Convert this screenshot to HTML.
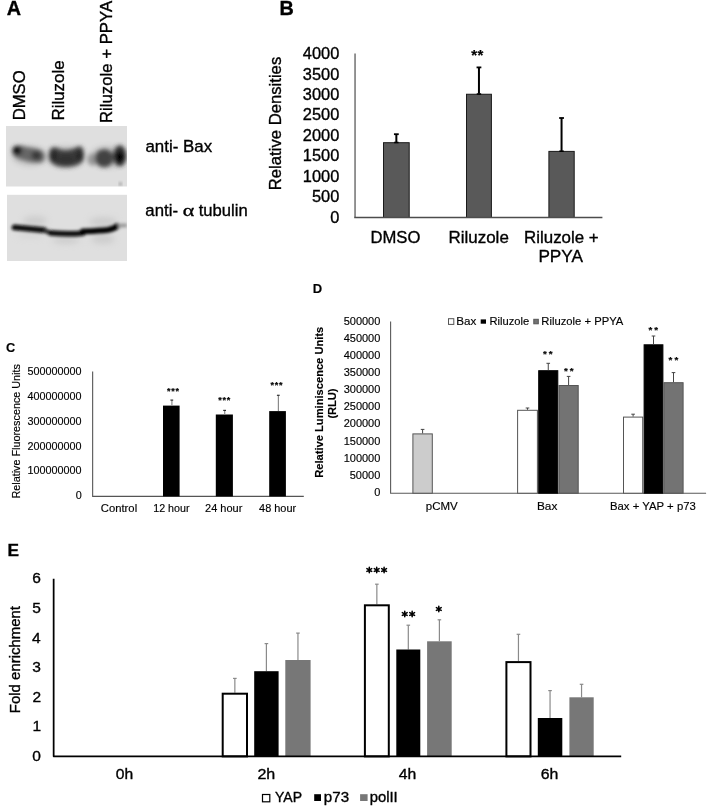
<!DOCTYPE html>
<html><head><meta charset="utf-8"><style>
html,body{margin:0;padding:0;background:#fff;}
svg{display:block;font-family:"Liberation Sans", sans-serif;filter:grayscale(1);} text{stroke:#000;}
</style></head><body>
<svg width="708" height="807" viewBox="0 0 708 807">
<text transform="translate(6.7 14.8)" font-size="19.8" fill="#000" stroke-width="0.35" font-weight="bold">A</text>
<text transform="translate(25.2 120.33) rotate(-90) scale(1.0149 1)" font-size="16.4" fill="#000" stroke-width="0.35">DMSO</text>
<text transform="translate(64 120.55) rotate(-90) scale(1.0305 1)" font-size="16.4" fill="#000" stroke-width="0.35">Riluzole</text>
<text transform="translate(112.2 123.04) rotate(-90) scale(1.0220 1)" font-size="16.4" fill="#000" stroke-width="0.35">Riluzole + PPYA</text>
<defs>
<filter id="b1" x="-30%" y="-60%" width="160%" height="220%"><feGaussianBlur stdDeviation="1.9"/></filter>
<filter id="b2" x="-20%" y="-60%" width="140%" height="220%"><feGaussianBlur stdDeviation="1.4"/></filter>
<filter id="b3" x="-50%" y="-50%" width="200%" height="200%"><feGaussianBlur stdDeviation="3"/></filter>
<clipPath id="c1"><rect x="6" y="126" width="121" height="60.5"/></clipPath>
<clipPath id="c2"><rect x="7" y="194.8" width="120" height="66.2"/></clipPath>
</defs>
<rect x="6" y="126" width="121" height="60.5" fill="#dfdfdf"/>
<g clip-path="url(#c1)">
<g filter="url(#b3)" opacity="0.45"><ellipse cx="30" cy="156" rx="17" ry="9" fill="#888"/><ellipse cx="66" cy="157" rx="18" ry="10" fill="#888"/><ellipse cx="108" cy="157" rx="18" ry="10" fill="#888"/></g>
<g filter="url(#b1)">
<path d="M12.5,150 C13,145 19,144.5 24,146.5 C30,148 36,148.5 40,150 C45,152 46,159 42,162 C36,163.5 27,161.5 20,159 C14,157 12,154 12.5,150 Z" fill="#666"/>
<ellipse cx="17.2" cy="150.6" rx="4.6" ry="4.6" fill="#0c0c0c"/>
<ellipse cx="36.5" cy="155.5" rx="5" ry="4.5" fill="#383838"/>
<path d="M49.5,152 C50,146 56,146.5 60,149.5 C66,151 73,150 78,146.5 C83,145.5 84,150 83.5,158 C83,164 76,166.5 66,167 C57,167 50,164 49.5,158 Z" fill="#3e3e3e"/>
<ellipse cx="53.5" cy="156" rx="4" ry="5.5" fill="#262626"/>
<ellipse cx="79.5" cy="155.5" rx="3.8" ry="5.5" fill="#262626"/>
<ellipse cx="66" cy="159" rx="10" ry="4.5" fill="#333"/>
<ellipse cx="92.4" cy="159.6" rx="4.8" ry="5.8" fill="#969696"/>
<ellipse cx="104.2" cy="158.2" rx="9.3" ry="9" fill="#424242"/>
<ellipse cx="119.8" cy="155.8" rx="6.5" ry="10.5" fill="#303030"/>
<ellipse cx="119.6" cy="157" rx="4" ry="5.8" fill="#000"/>
</g>
<ellipse cx="120.4" cy="184" rx="1.6" ry="1.8" fill="#999" filter="url(#b2)"/>
</g>
<rect x="7" y="194.8" width="120" height="66.2" fill="#dfdfdf"/>
<g clip-path="url(#c2)">
<g filter="url(#b3)" opacity="0.5"><ellipse cx="35" cy="221" rx="12" ry="5" fill="#bbb"/><ellipse cx="103" cy="222" rx="14" ry="5" fill="#bbb"/><ellipse cx="66" cy="240" rx="14" ry="4" fill="#bbb"/><ellipse cx="103" cy="239" rx="12" ry="5" fill="#bbb"/><ellipse cx="30" cy="235" rx="14" ry="3" fill="#ccc"/></g>
<g filter="url(#b2)">
<path d="M14.5,227.4 C20,228 32,229 44,230.2" fill="none" stroke="#0a0a0a" stroke-width="5.8" stroke-linecap="round"/>
<path d="M44,230.4 L51,233" fill="none" stroke="#333" stroke-width="4.8"/>
<path d="M51,233 C60,233.8 72,234 82.5,233.2" fill="none" stroke="#0a0a0a" stroke-width="5.6" stroke-linecap="round"/>
<path d="M83,231.4 C92,231 100,230.7 108,229.8 C112,229.2 115,228 117.4,226" fill="none" stroke="#050505" stroke-width="5.8" stroke-linecap="round"/>
<path d="M118,225.7 L127,225.4" fill="none" stroke="#999" stroke-width="3.8"/>
</g></g>
<text transform="translate(145.45 151.8) scale(0.9951 1)" font-size="17" fill="#000" stroke-width="0.35">anti- Bax</text>
<text transform="translate(145.36 215.8) scale(0.9866 1)" font-size="17" fill="#000" stroke-width="0.35">anti-</text>
<text transform="translate(182.79 215.8) scale(1.2952 1)" font-size="17" fill="#000" stroke-width="0.35" font-family="Liberation Serif, serif">α</text>
<text transform="translate(198.66 215.8) scale(0.9785 1)" font-size="17" fill="#000" stroke-width="0.35">tubulin</text>
<text transform="translate(279.39 14.8)" font-size="19.8" fill="#000" stroke-width="0.35" font-weight="bold">B</text>
<text transform="translate(330.16 222.8)" font-size="16.4" fill="#000" stroke-width="0.35">0</text>
<text transform="translate(311.98 202.33)" font-size="16.4" fill="#000" stroke-width="0.35">500</text>
<text transform="translate(302.85 181.86)" font-size="16.4" fill="#000" stroke-width="0.35">1000</text>
<text transform="translate(302.85 161.39)" font-size="16.4" fill="#000" stroke-width="0.35">1500</text>
<text transform="translate(302.85 140.92)" font-size="16.4" fill="#000" stroke-width="0.35">2000</text>
<text transform="translate(302.85 120.45)" font-size="16.4" fill="#000" stroke-width="0.35">2500</text>
<text transform="translate(302.85 99.98)" font-size="16.4" fill="#000" stroke-width="0.35">3000</text>
<text transform="translate(302.85 79.51)" font-size="16.4" fill="#000" stroke-width="0.35">3500</text>
<text transform="translate(302.85 59.04)" font-size="16.4" fill="#000" stroke-width="0.35">4000</text>
<line x1="355.05" y1="53.4" x2="355.05" y2="217.5" stroke="#7a7a7a" stroke-width="1.6"/>
<rect x="383.5" y="142.7" width="25.7" height="74.8" fill="#595959" stroke="#1a1a1a" stroke-width="1"/>
<line x1="396.35" y1="142.2" x2="396.35" y2="134.2" stroke="#000" stroke-width="2"/>
<line x1="393.95" y1="134.2" x2="398.75" y2="134.2" stroke="#000" stroke-width="1.8"/>
<line x1="394.15" y1="142.5" x2="398.55" y2="142.5" stroke="#000" stroke-width="1.6"/>
<rect x="466.5" y="94.25" width="24.9" height="123.25" fill="#595959" stroke="#1a1a1a" stroke-width="1"/>
<line x1="478.95" y1="93.75" x2="478.95" y2="67.4" stroke="#000" stroke-width="2"/>
<line x1="476.55" y1="67.4" x2="481.35" y2="67.4" stroke="#000" stroke-width="1.8"/>
<line x1="476.75" y1="94.05" x2="481.15" y2="94.05" stroke="#000" stroke-width="1.6"/>
<rect x="548.9" y="151.4" width="25.3" height="66.1" fill="#595959" stroke="#1a1a1a" stroke-width="1"/>
<line x1="561.55" y1="150.9" x2="561.55" y2="118" stroke="#000" stroke-width="2"/>
<line x1="559.15" y1="118" x2="563.95" y2="118" stroke="#000" stroke-width="1.8"/>
<line x1="559.35" y1="151.2" x2="563.75" y2="151.2" stroke="#000" stroke-width="1.6"/>
<line x1="354.25" y1="217.5" x2="602.4" y2="217.5" stroke="#4d4d4d" stroke-width="1.3"/>
<text x="471.16" y="60.13" font-size="15" fill="#000" stroke-width="0.2" font-weight="bold">*</text>
<text x="477.46" y="60.13" font-size="15" fill="#000" stroke-width="0.2" font-weight="bold">*</text>
<text transform="translate(370.43 242.8) scale(0.9927 1)" font-size="16.8" fill="#000" stroke-width="0.35">DMSO</text>
<text transform="translate(448.51 242.8) scale(1.0089 1)" font-size="16.8" fill="#000" stroke-width="0.35">Riluzole</text>
<text transform="translate(524.02 242.8) scale(1.0066 1)" font-size="16.8" fill="#000" stroke-width="0.35">Riluzole +</text>
<text transform="translate(538.39 262) scale(1.0240 1)" font-size="16.8" fill="#000" stroke-width="0.35">PPYA</text>
<text transform="translate(281.3 190.24) rotate(-90) scale(1.0179 1)" font-size="16.4" fill="#000" stroke-width="0.35">Relative Densities</text>
<text transform="translate(6.1 352.2)" font-size="12.8" fill="#000" stroke-width="0.15" font-weight="bold">C</text>
<text transform="translate(75.64 499.15)" font-size="10.8" fill="#000" stroke-width="0.15">0</text>
<text transform="translate(27.51 474.41)" font-size="10.8" fill="#000" stroke-width="0.15">100000000</text>
<text transform="translate(27.51 449.67)" font-size="10.8" fill="#000" stroke-width="0.15">200000000</text>
<text transform="translate(27.51 424.93)" font-size="10.8" fill="#000" stroke-width="0.15">300000000</text>
<text transform="translate(27.51 400.19)" font-size="10.8" fill="#000" stroke-width="0.15">400000000</text>
<text transform="translate(27.51 375.45)" font-size="10.8" fill="#000" stroke-width="0.15">500000000</text>
<path d="M92.65,371.6 V496.4 H303.8" fill="none" stroke="#555" stroke-width="1.1"/>
<rect x="163" y="405.6" width="16.6" height="90.8" fill="#000"/>
<line x1="171.9" y1="405.6" x2="171.9" y2="400.1" stroke="#8a8a8a" stroke-width="1.2"/>
<line x1="170.4" y1="400.1" x2="173.2" y2="400.1" stroke="#333" stroke-width="1.2"/>
<rect x="215.8" y="414.5" width="17.1" height="81.9" fill="#000"/>
<line x1="224.7" y1="414.5" x2="224.7" y2="410.4" stroke="#8a8a8a" stroke-width="1.2"/>
<line x1="223.2" y1="410.4" x2="226" y2="410.4" stroke="#333" stroke-width="1.2"/>
<rect x="269.2" y="411.1" width="16.7" height="85.3" fill="#000"/>
<line x1="278.4" y1="411.1" x2="278.4" y2="395.3" stroke="#8a8a8a" stroke-width="1.2"/>
<line x1="276.9" y1="395.3" x2="279.7" y2="395.3" stroke="#333" stroke-width="1.2"/>
<text x="167.07" y="393.9" font-size="9" fill="#000" stroke-width="0.2" font-weight="bold">*</text>
<text x="171.32" y="393.9" font-size="9" fill="#000" stroke-width="0.2" font-weight="bold">*</text>
<text x="175.57" y="393.9" font-size="9" fill="#000" stroke-width="0.2" font-weight="bold">*</text>
<text x="218.27" y="402.65" font-size="9" fill="#000" stroke-width="0.2" font-weight="bold">*</text>
<text x="222.52" y="402.65" font-size="9" fill="#000" stroke-width="0.2" font-weight="bold">*</text>
<text x="226.77" y="402.65" font-size="9" fill="#000" stroke-width="0.2" font-weight="bold">*</text>
<text x="270.62" y="388.2" font-size="9" fill="#000" stroke-width="0.2" font-weight="bold">*</text>
<text x="274.87" y="388.2" font-size="9" fill="#000" stroke-width="0.2" font-weight="bold">*</text>
<text x="279.12" y="388.2" font-size="9" fill="#000" stroke-width="0.2" font-weight="bold">*</text>
<text transform="translate(100.81 512) scale(1.0546 1)" font-size="10.7" fill="#000" stroke-width="0.15">Control</text>
<text transform="translate(153.19 512)" font-size="10.7" fill="#000" stroke-width="0.15">12 hour</text>
<text transform="translate(205.02 512) scale(1.0282 1)" font-size="10.7" fill="#000" stroke-width="0.15">24 hour</text>
<text transform="translate(259.04 512) scale(1.0248 1)" font-size="10.7" fill="#000" stroke-width="0.15">48 hour</text>
<text transform="translate(19.7 498.58) rotate(-90) scale(1.0071 1)" font-size="10.75" fill="#000" stroke-width="0.15">Relative Fluorescence Units</text>
<text transform="translate(312.82 292.9)" font-size="13" fill="#000" stroke-width="0.15" font-weight="bold">D</text>
<text transform="translate(374.21 495.9)" font-size="11" fill="#000" stroke-width="0.15">0</text>
<text transform="translate(349.71 478.78)" font-size="11" fill="#000" stroke-width="0.15">50000</text>
<text transform="translate(343.65 461.66)" font-size="11" fill="#000" stroke-width="0.15">100000</text>
<text transform="translate(343.65 444.54)" font-size="11" fill="#000" stroke-width="0.15">150000</text>
<text transform="translate(343.65 427.42)" font-size="11" fill="#000" stroke-width="0.15">200000</text>
<text transform="translate(343.65 410.3)" font-size="11" fill="#000" stroke-width="0.15">250000</text>
<text transform="translate(343.65 393.18)" font-size="11" fill="#000" stroke-width="0.15">300000</text>
<text transform="translate(343.65 376.06)" font-size="11" fill="#000" stroke-width="0.15">350000</text>
<text transform="translate(343.65 358.94)" font-size="11" fill="#000" stroke-width="0.15">400000</text>
<text transform="translate(343.65 341.82)" font-size="11" fill="#000" stroke-width="0.15">450000</text>
<text transform="translate(343.65 324.7)" font-size="11" fill="#000" stroke-width="0.15">500000</text>
<path d="M390.6,321.5 V493.2 H706.1" fill="none" stroke="#5a5a5a" stroke-width="1.1"/>
<rect x="412.9" y="433.9" width="19.4" height="59.3" fill="#cccccc" stroke="#555" stroke-width="1"/>
<line x1="422.6" y1="433.4" x2="422.6" y2="429.4" stroke="#444" stroke-width="1"/>
<line x1="420.8" y1="429.4" x2="424.4" y2="429.4" stroke="#444" stroke-width="1"/>
<rect x="517.6" y="410.3" width="19.8" height="82.9" fill="#fff" stroke="#555" stroke-width="1"/>
<line x1="527.5" y1="409.8" x2="527.5" y2="408" stroke="#444" stroke-width="1"/>
<line x1="525.7" y1="408" x2="529.3" y2="408" stroke="#444" stroke-width="1"/>
<rect x="538.7" y="370.7" width="19.1" height="122.5" fill="#000" stroke="#000" stroke-width="1"/>
<line x1="548.25" y1="370.2" x2="548.25" y2="363.3" stroke="#444" stroke-width="1"/>
<line x1="546.45" y1="363.3" x2="550.05" y2="363.3" stroke="#444" stroke-width="1"/>
<rect x="559" y="385.5" width="19.2" height="107.7" fill="#737373" stroke="#555" stroke-width="1"/>
<line x1="568.6" y1="385" x2="568.6" y2="376.4" stroke="#444" stroke-width="1"/>
<line x1="566.8" y1="376.4" x2="570.4" y2="376.4" stroke="#444" stroke-width="1"/>
<rect x="623.5" y="417.1" width="19.2" height="76.1" fill="#fff" stroke="#555" stroke-width="1"/>
<line x1="633.1" y1="416.6" x2="633.1" y2="414.2" stroke="#444" stroke-width="1"/>
<line x1="631.3" y1="414.2" x2="634.9" y2="414.2" stroke="#444" stroke-width="1"/>
<rect x="644.1" y="344.8" width="18.8" height="148.4" fill="#000" stroke="#000" stroke-width="1"/>
<line x1="653.5" y1="344.3" x2="653.5" y2="336" stroke="#444" stroke-width="1"/>
<line x1="651.7" y1="336" x2="655.3" y2="336" stroke="#444" stroke-width="1"/>
<rect x="663.9" y="382.7" width="19.2" height="110.5" fill="#737373" stroke="#555" stroke-width="1"/>
<line x1="673.5" y1="382.2" x2="673.5" y2="372.6" stroke="#444" stroke-width="1"/>
<line x1="671.7" y1="372.6" x2="675.3" y2="372.6" stroke="#444" stroke-width="1"/>
<text x="543.06" y="356.94" font-size="9.8" fill="#000" stroke-width="0.2" font-weight="bold">*</text>
<text x="548.86" y="356.94" font-size="9.8" fill="#000" stroke-width="0.2" font-weight="bold">*</text>
<text x="564.01" y="374.44" font-size="9.8" fill="#000" stroke-width="0.2" font-weight="bold">*</text>
<text x="569.81" y="374.44" font-size="9.8" fill="#000" stroke-width="0.2" font-weight="bold">*</text>
<text x="648.51" y="333.24" font-size="9.8" fill="#000" stroke-width="0.2" font-weight="bold">*</text>
<text x="654.31" y="333.24" font-size="9.8" fill="#000" stroke-width="0.2" font-weight="bold">*</text>
<text x="668.61" y="363.14" font-size="9.8" fill="#000" stroke-width="0.2" font-weight="bold">*</text>
<text x="674.41" y="363.14" font-size="9.8" fill="#000" stroke-width="0.2" font-weight="bold">*</text>
<rect x="448.5" y="318.7" width="5.3" height="5.7" fill="#fff" stroke="#555" stroke-width="1"/>
<text transform="translate(456.14 324.8) scale(1.0236 1)" font-size="11.4" fill="#000" stroke-width="0.15">Bax</text>
<rect x="480.7" y="319.4" width="5.3" height="4.3" fill="#000"/>
<text transform="translate(489.38 324.7) scale(0.9821 1)" font-size="11.4" fill="#000" stroke-width="0.15">Riluzole</text>
<rect x="533.8" y="319.3" width="4.5" height="4.5" fill="#737373" stroke="#555" stroke-width="1"/>
<text transform="translate(541.37 324.7) scale(0.9873 1)" font-size="11.4" fill="#000" stroke-width="0.15">Riluzole + PPYA</text>
<text transform="translate(425.75 510.1)" font-size="11.5" fill="#000" stroke-width="0.15">pCMV</text>
<text transform="translate(536.93 510.1) scale(1.0293 1)" font-size="11.5" fill="#000" stroke-width="0.15">Bax</text>
<text transform="translate(609.97 510.1) scale(0.9883 1)" font-size="11.5" fill="#000" stroke-width="0.15">Bax + YAP + p73</text>
<text transform="translate(323.4 477.76) rotate(-90) scale(1.0135 1)" font-size="11" fill="#000" stroke-width="0.15" font-weight="bold">Relative Luminiscence Units</text>
<text transform="translate(335.6 418.57) rotate(-90) scale(1.0065 1)" font-size="11" fill="#000" stroke-width="0.15" font-weight="bold">(RLU)</text>
<text transform="translate(7.57 555.6)" font-size="17.2" fill="#000" stroke-width="0.35" font-weight="bold">E</text>
<text transform="translate(32.3 761.05)" font-size="15.5" fill="#000" stroke-width="0.35">0</text>
<text transform="translate(32.42 731.43)" font-size="15.5" fill="#000" stroke-width="0.35">1</text>
<text transform="translate(32.49 701.81)" font-size="15.5" fill="#000" stroke-width="0.35">2</text>
<text transform="translate(32.36 672.19)" font-size="15.5" fill="#000" stroke-width="0.35">3</text>
<text transform="translate(32.11 642.57)" font-size="15.5" fill="#000" stroke-width="0.35">4</text>
<text transform="translate(32.36 612.95)" font-size="15.5" fill="#000" stroke-width="0.35">5</text>
<text transform="translate(32.36 583.33)" font-size="15.5" fill="#000" stroke-width="0.35">6</text>
<line x1="234.85" y1="692.7" x2="234.85" y2="678.4" stroke="#8a8a8a" stroke-width="1.2"/>
<line x1="233.05" y1="678.4" x2="236.65" y2="678.4" stroke="#8a8a8a" stroke-width="1.2"/>
<rect x="222.7" y="693.7" width="24.3" height="62.7" fill="#fff" stroke="#000" stroke-width="2"/>
<line x1="266.4" y1="671.2" x2="266.4" y2="643.6" stroke="#8a8a8a" stroke-width="1.2"/>
<line x1="264.6" y1="643.6" x2="268.2" y2="643.6" stroke="#8a8a8a" stroke-width="1.2"/>
<rect x="254.2" y="671.2" width="24.4" height="85.2" fill="#000"/>
<line x1="297.95" y1="660" x2="297.95" y2="633.1" stroke="#8a8a8a" stroke-width="1.2"/>
<line x1="296.15" y1="633.1" x2="299.75" y2="633.1" stroke="#8a8a8a" stroke-width="1.2"/>
<rect x="285.3" y="660" width="25.3" height="96.4" fill="#777"/>
<line x1="376.85" y1="604.3" x2="376.85" y2="584.2" stroke="#8a8a8a" stroke-width="1.2"/>
<line x1="375.05" y1="584.2" x2="378.65" y2="584.2" stroke="#8a8a8a" stroke-width="1.2"/>
<rect x="364.9" y="605.3" width="23.9" height="151.1" fill="#fff" stroke="#000" stroke-width="2"/>
<line x1="408.3" y1="649.5" x2="408.3" y2="625.2" stroke="#8a8a8a" stroke-width="1.2"/>
<line x1="406.5" y1="625.2" x2="410.1" y2="625.2" stroke="#8a8a8a" stroke-width="1.2"/>
<rect x="396.3" y="649.5" width="24" height="106.9" fill="#000"/>
<line x1="439.4" y1="641.3" x2="439.4" y2="619.8" stroke="#8a8a8a" stroke-width="1.2"/>
<line x1="437.6" y1="619.8" x2="441.2" y2="619.8" stroke="#8a8a8a" stroke-width="1.2"/>
<rect x="427.1" y="641.3" width="24.6" height="115.1" fill="#777"/>
<line x1="518.45" y1="661.1" x2="518.45" y2="634.3" stroke="#8a8a8a" stroke-width="1.2"/>
<line x1="516.65" y1="634.3" x2="520.25" y2="634.3" stroke="#8a8a8a" stroke-width="1.2"/>
<rect x="506.4" y="662.1" width="24.1" height="94.3" fill="#fff" stroke="#000" stroke-width="2"/>
<line x1="550.05" y1="718" x2="550.05" y2="690.6" stroke="#8a8a8a" stroke-width="1.2"/>
<line x1="548.25" y1="690.6" x2="551.85" y2="690.6" stroke="#8a8a8a" stroke-width="1.2"/>
<rect x="537.8" y="718" width="24.5" height="38.4" fill="#000"/>
<line x1="581.55" y1="697.3" x2="581.55" y2="684.3" stroke="#8a8a8a" stroke-width="1.2"/>
<line x1="579.75" y1="684.3" x2="583.35" y2="684.3" stroke="#8a8a8a" stroke-width="1.2"/>
<rect x="569.4" y="697.3" width="24.3" height="59.1" fill="#777"/>
<path d="M53.65,578.8 V756.3 H621.2" fill="none" stroke="#000" stroke-width="1.75" stroke-linejoin="round"/>
<path d="M369.3,567.2L369.3,572.8M366.88,568.6L371.72,571.4M371.72,568.6L366.88,571.4" stroke="#000" stroke-width="1.5" stroke-linecap="round"/>
<path d="M376.7,567.2L376.7,572.8M374.28,568.6L379.12,571.4M379.12,568.6L374.28,571.4" stroke="#000" stroke-width="1.5" stroke-linecap="round"/>
<path d="M384.1,567.2L384.1,572.8M381.68,568.6L386.52,571.4M386.52,568.6L381.68,571.4" stroke="#000" stroke-width="1.5" stroke-linecap="round"/>
<path d="M404.75,611.25L404.75,616.85M402.33,612.65L407.17,615.45M407.17,612.65L402.33,615.45" stroke="#000" stroke-width="1.5" stroke-linecap="round"/>
<path d="M412.15,611.25L412.15,616.85M409.73,612.65L414.57,615.45M414.57,612.65L409.73,615.45" stroke="#000" stroke-width="1.5" stroke-linecap="round"/>
<path d="M438.8,606.15L438.8,611.75M436.38,607.55L441.22,610.35M441.22,607.55L436.38,610.35" stroke="#000" stroke-width="1.5" stroke-linecap="round"/>
<text transform="translate(115.81 778.6) scale(1.0446 1)" font-size="15" fill="#000" stroke-width="0.35">0h</text>
<text transform="translate(257.4 778.6) scale(1.0711 1)" font-size="15" fill="#000" stroke-width="0.35">2h</text>
<text transform="translate(398.81 778.6) scale(1.0514 1)" font-size="15" fill="#000" stroke-width="0.35">4h</text>
<text transform="translate(540.81 778.6) scale(1.0577 1)" font-size="15" fill="#000" stroke-width="0.35">6h</text>
<text transform="translate(19.7 713.15) rotate(-90) scale(0.9964 1)" font-size="15" fill="#000" stroke-width="0.35">Fold enrichment</text>
<rect x="262.5" y="794.5" width="7.3" height="7.3" fill="#fff" stroke="#000" stroke-width="1.2"/>
<text transform="translate(274.99 802.2) scale(1.0024 1)" font-size="14" fill="#000" stroke-width="0.35">YAP</text>
<rect x="314.2" y="794.2" width="6.8" height="6.8" fill="#000"/>
<text transform="translate(323.86 802.2) scale(1.0789 1)" font-size="14" fill="#000" stroke-width="0.35">p73</text>
<rect x="360.1" y="794.2" width="7.5" height="6.8" fill="#777"/>
<text transform="translate(369.78 802.2) scale(1.0571 1)" font-size="14" fill="#000" stroke-width="0.35">polII</text>
</svg>
</body></html>
